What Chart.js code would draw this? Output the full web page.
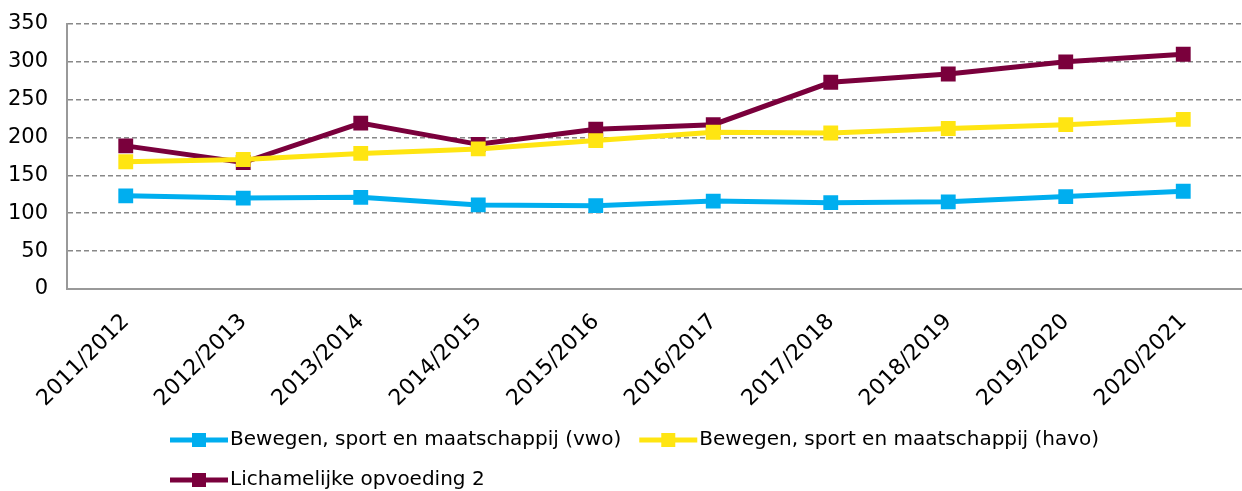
<!DOCTYPE html>
<html>
<head>
<meta charset="utf-8">
<script src="https://cdn.jsdelivr.net/npm/chart.js@4"></script>
<style>
  html, body { margin: 0; padding: 0; background: #fff; }
  #wrap { width: 1242px; height: 491px; }
</style>
</head>
<body>
<div id="wrap"><canvas id="grafiek"></canvas></div>
<script>
// schooljaren
const jaren = ["2011/2012", "2012/2013", "2013/2014", "2014/2015", "2015/2016",
               "2016/2017", "2017/2018", "2018/2019", "2019/2020", "2020/2021"];

const bsmVwo = [123, 120, 121, 111, 110, 116, 114, 115, 122, 129];
const bsmHavo = [168, 171, 179, 185, 196, 207, 206, 212, 217, 224];
const lo2 = [189, 167, 219, 191, 211, 217, 273, 284, 300, 310];

const namen = ["Bewegen, sport en maatschappij (vwo)",
               "Bewegen, sport en maatschappij (havo)",
               "Lichamelijke opvoeding 2"];
const kleuren = ["#00AEEF", "#FFE512", "#7A003C"];

const yTicks = [0, 50, 100, 150, 200, 250, 300, 350];

function reeks(i, data) {
    return {
        label: namen[i],
        data: data,
        borderColor: kleuren[i],
        backgroundColor: kleuren[i],
        borderWidth: 5,
        pointStyle: "rect",
        pointRadius: 10.5,
        pointHoverRadius: 10.5,
        pointBorderWidth: 0,
        tension: 0
    };
}

// legenda zoals in Excel: links uitgelijnd, twee rijen
const legendaPlugin = {
    id: "legenda",
    afterDraw(chart) {
        const ctx = chart.ctx;
        ctx.save();
        ctx.font = "20px 'DejaVu Sans'";
        ctx.textBaseline = "middle";
        const rijen = [[0, 1], [2]];
        const startX = 170;
        const rijY = [440, 480];
        rijen.forEach((rij, r) => {
            let x = startX;
            rij.forEach(i => {
                const y = rijY[r];
                ctx.strokeStyle = kleuren[i];
                ctx.lineWidth = 5;
                ctx.beginPath();
                ctx.moveTo(x, y);
                ctx.lineTo(x + 58, y);
                ctx.stroke();
                ctx.fillStyle = kleuren[i];
                ctx.fillRect(x + 29 - 7, y - 7, 14, 14);
                ctx.fillStyle = "#000";
                ctx.fillText(namen[i], x + 60, y);
                x += 60 + ctx.measureText(namen[i]).width + 18;
            });
        });
        ctx.restore();
    }
};

new Chart(document.getElementById("grafiek"), {
    type: "line",
    data: {
        labels: jaren,
        datasets: [reeks(0, bsmVwo), reeks(1, bsmHavo), reeks(2, lo2)]
    },
    plugins: [legendaPlugin],
    options: {
        responsive: true,
        maintainAspectRatio: false,
        animation: false,
        layout: { autoPadding: false, padding: { top: 24, right: 0, left: 0, bottom: 67 } },
        plugins: {
            legend: { display: false },
            tooltip: { enabled: false }
        },
        scales: {
            x: {
                offset: true,
                grid: { display: false, offset: true },
                border: { display: true, color: "#999", width: 2 },
                ticks: {
                    color: "#000",
                    font: { family: "DejaVu Sans", size: 22 },
                    maxRotation: 45,
                    minRotation: 45,
                    padding: 12
                },
                afterFit: s => { s.paddingLeft = 0; s.paddingRight = 0; }
            },
            y: {
                min: 0,
                max: 350,
                afterBuildTicks: s => { s.ticks = yTicks.map(v => ({ value: v })); },
                afterFit: s => { s.width = 67; s.paddingTop = 0; s.paddingBottom = 0; },
                grid: {
                    color: c => c.tick && c.tick.value === 0 ? "rgba(0,0,0,0)" : "#888",
                    lineWidth: 1.5,
                    drawTicks: false
                },
                border: { display: true, color: "#999", width: 2, dash: [5, 3] },
                ticks: {
                    color: "#000",
                    font: { family: "DejaVu Sans", size: 21 },
                    padding: 19
                }
            }
        }
    }
});
</script>
</body>
</html>
